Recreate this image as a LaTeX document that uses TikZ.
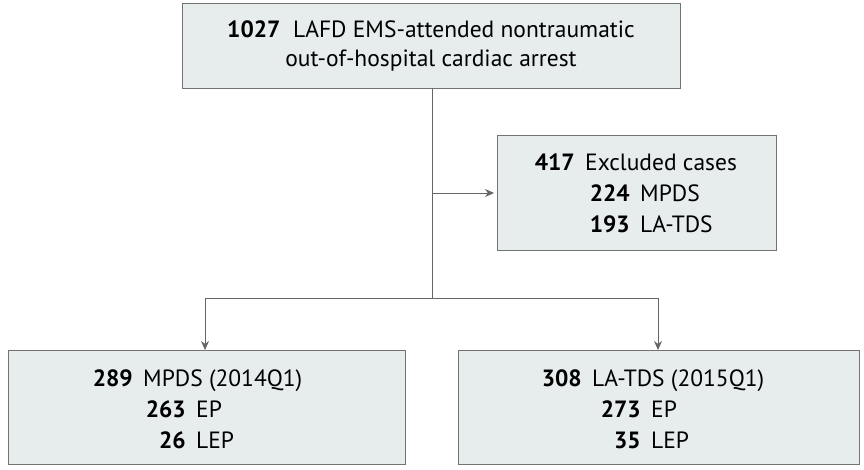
\documentclass[tikz,border=0pt]{standalone}
\usepackage{fontspec}
\setmainfont{PT Sans}
\usetikzlibrary{arrows.meta}
\begin{document}
\begin{tikzpicture}[x=1pt,y=-1pt,
  box/.style={draw=black!55,fill=boxfill,line width=0.8pt},
  txt/.style={font=\fontsize{23.5}{29}\selectfont,inner sep=0pt},
  num/.style={txt,anchor=base east},
  lab/.style={txt,anchor=base west},
  conn/.style={draw=black!60,line width=0.8pt},
  arr/.style={conn,-{Stealth[length=9pt,width=8pt]}}]
\definecolor{boxfill}{HTML}{E7ECEC}
\useasboundingbox (0,0) rectangle (864,470);
\draw[box] (182,3) rectangle (680,88) coordinate (topbr);
\node[txt,align=center] (top) at (431,45.5) {\textbf{1027}\ \ LAFD EMS-attended nontraumatic\\out-of-hospital cardiac arrest};
\draw[box] (497,135) rectangle (776,250);
\node[num] (e1) at (575,171) {\textbf{417}};
\node[lab] (e1l) at (585,171) {Excluded cases};
\node[num] (e2) at (630,202) {\textbf{224}};
\node[lab] (e2l) at (640,202) {MPDS};
\node[num] (e3) at (630,233) {\textbf{193}};
\node[lab] (e3l) at (640,233) {LA-TDS};
\draw[box] (8,350) rectangle (405,464);
\node[num] (a1) at (133,386) {\textbf{289}};
\node[lab] (a1l) at (143,386) {MPDS (2014Q1)};
\node[num] (a2) at (186,417) {\textbf{263}};
\node[lab] (a2l) at (196,417) {EP};
\node[num] (a3) at (186,448) {\textbf{26}};
\node[lab] (a3l) at (196,448) {LEP};
\draw[box] (458,350) rectangle (859,464);
\node[num] (b1) at (582,386) {\textbf{308}};
\node[lab] (b1l) at (592,386) {LA-TDS (2015Q1)};
\node[num] (b2) at (641,417) {\textbf{273}};
\node[lab] (b2l) at (651,417) {EP};
\node[num] (b3) at (641,448) {\textbf{35}};
\node[lab] (b3l) at (651,448) {LEP};
\coordinate (t0) at (432,88);
\coordinate (t1) at (432,193);
\coordinate (t2) at (432,298);
\coordinate (ex) at (494,193);
\coordinate (l0) at (205,298);
\coordinate (l1) at (205,350);
\coordinate (r0) at (658,298);
\coordinate (r1) at (658,350);
\draw[conn] (t0) -- (t2);
\draw[arr] (t1) -- (ex);
\draw[conn] (l0) -- (r0);
\draw[arr] (l0) -- (l1);
\draw[arr] (r0) -- (r1);
\end{tikzpicture}
\end{document}
